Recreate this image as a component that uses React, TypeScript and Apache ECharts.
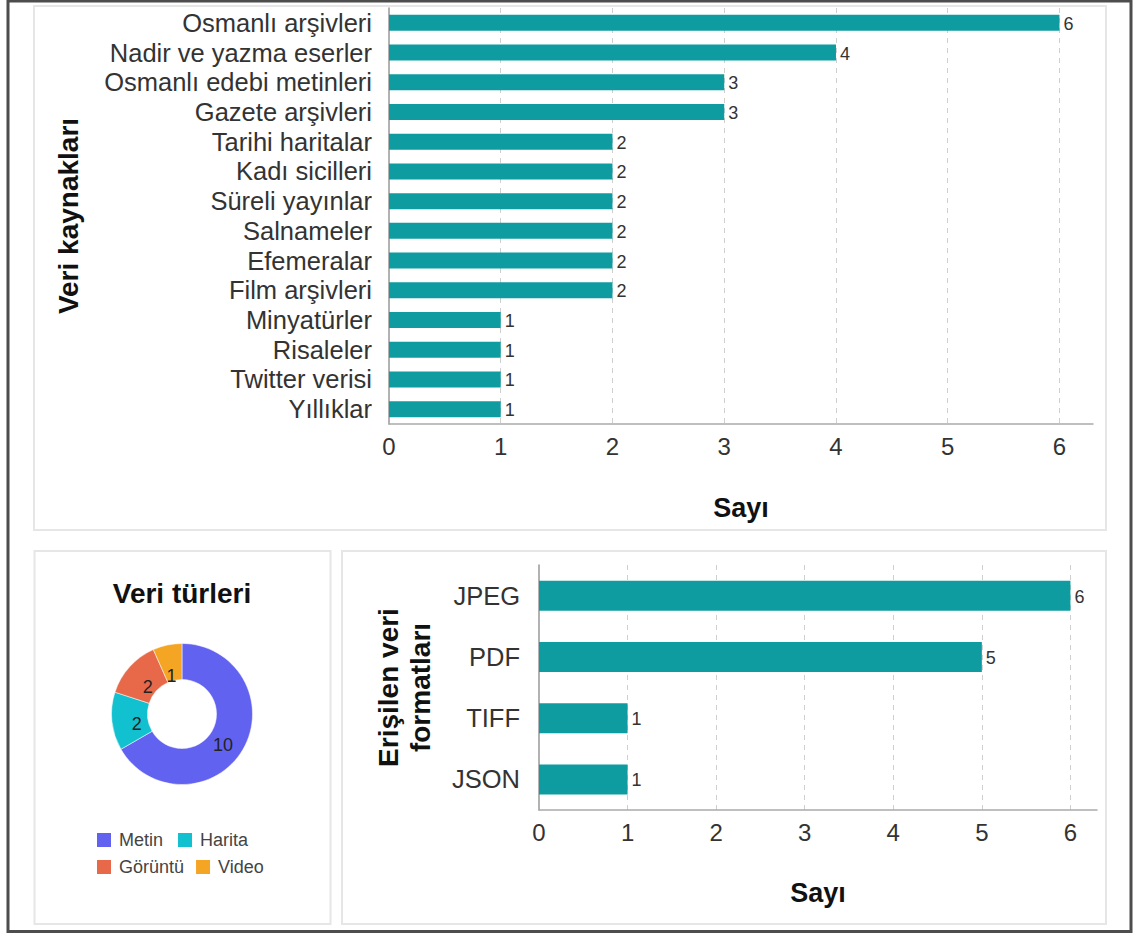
import React, { useEffect, useRef } from 'react';
import * as echarts from 'echarts';

const sourceCategories = [
  'Osmanlı arşivleri',
  'Nadir ve yazma eserler',
  'Osmanlı edebi metinleri',
  'Gazete arşivleri',
  'Tarihi haritalar',
  'Kadı sicilleri',
  'Süreli yayınlar',
  'Salnameler',
  'Efemeralar',
  'Film arşivleri',
  'Minyatürler',
  'Risaleler',
  'Twitter verisi',
  'Yıllıklar',
];
const sourceValues = [6, 4, 3, 3, 2, 2, 2, 2, 2, 2, 1, 1, 1, 1];

const formatCategories = ['JPEG', 'PDF', 'TIFF', 'JSON'];
const formatValues = [6, 5, 1, 1];

const typeNames = ['Metin', 'Harita', 'Görüntü', 'Video'];
const typeValues = [10, 2, 2, 1];
const typeColors = ['#6262f0', '#12c1cf', '#e8694a', '#f5a524'];
const typeLabelOffsets = [[-7, 3], [10, 4], [7, 10], [1, 16]];

const axisMin = 0;
const axisMax = 6.3;
const axisInterval = 1;

const FONT = '"Liberation Sans", Arial, sans-serif';
const TEAL = '#0f9ca0';
const TEXT = '#333';

const splitColors = ['transparent', '#cfcfcf', '#cfcfcf', '#cfcfcf', '#cfcfcf', '#cfcfcf', '#cfcfcf', 'transparent'];

function valueAxis(gridIndex: number, nameGap: number) {
  return {
    type: 'value',
    gridIndex,
    min: axisMin,
    max: axisMax,
    interval: axisInterval,
    name: 'Sayı',
    nameLocation: 'middle',
    nameGap,
    nameTextStyle: { fontFamily: FONT, fontSize: 27, fontWeight: 'bold', color: '#111' },
    axisLine: { show: true, lineStyle: { color: '#aaa', width: 1.5 } },
    axisTick: { show: false },
    axisLabel: {
      fontFamily: FONT,
      fontSize: 24,
      color: TEXT,
      margin: 10,
      formatter: (v: number) => (Number.isInteger(v) ? String(v) : ''),
    },
    splitLine: { show: true, lineStyle: { type: [5, 5], color: splitColors, width: 1 } },
  };
}

function categoryAxis(gridIndex: number, data: string[], name: string, nameGap: number, margin: number) {
  return {
    type: 'category',
    gridIndex,
    data,
    inverse: true,
    name,
    nameLocation: 'middle',
    nameGap,
    nameTextStyle: { fontFamily: FONT, fontSize: 28, fontWeight: 'bold', color: '#111', lineHeight: 32, align: 'center' },
    axisLine: { show: true, lineStyle: { color: '#999', width: 1.5 } },
    axisTick: { show: false },
    axisLabel: { fontFamily: FONT, fontSize: 25.5, color: TEXT, margin, interval: 0 },
    splitLine: { show: false },
  };
}

const legendBase = {
  left: 95,
  icon: 'rect',
  padding: 0,
  itemWidth: 16,
  itemHeight: 16,
  textStyle: { fontFamily: FONT, fontSize: 18, color: '#444', padding: [0, 0, 0, 2] },
};

const option = {
  animation: false,
  backgroundColor: '#fff',
  textStyle: { fontFamily: FONT },
  graphic: [
    { type: 'rect', z: 0, shape: { x: 8, y: 1, width: 1123, height: 930.5 }, style: { fill: 'none', stroke: '#4d4d4d', lineWidth: 3 } },
    { type: 'rect', z: 0, shape: { x: 34, y: 6, width: 1072, height: 524 }, style: { fill: 'none', stroke: '#e6e6e6', lineWidth: 2 } },
    { type: 'rect', z: 0, shape: { x: 34.5, y: 551, width: 296, height: 373 }, style: { fill: 'none', stroke: '#e6e6e6', lineWidth: 2 } },
    { type: 'rect', z: 0, shape: { x: 342, y: 551, width: 764, height: 373 }, style: { fill: 'none', stroke: '#e6e6e6', lineWidth: 2 } },
  ],
  title: {
    text: 'Veri türleri',
    left: 177,
    top: 574,
    textAlign: 'center',
    textStyle: { fontFamily: FONT, fontSize: 28, fontWeight: 'bold', color: '#111' },
  },
  legend: [
    { ...legendBase, data: typeNames.slice(0, 2), top: 831, itemGap: 13 },
    { ...legendBase, data: typeNames.slice(2, 4), top: 858, itemGap: 10 },
  ],
  grid: [
    { left: 389, top: 8, width: 704, height: 416, containLabel: false },
    { left: 539, top: 565, width: 558, height: 245, containLabel: false },
  ],
  xAxis: [valueAxis(0, 70), valueAxis(1, 69)],
  yAxis: [
    categoryAxis(0, sourceCategories, 'Veri kaynakları', 305, 17),
    categoryAxis(1, formatCategories, 'Erişilen veri\nformatları', 103, 19),
  ],
  series: [
    {
      type: 'bar',
      xAxisIndex: 0,
      yAxisIndex: 0,
      data: sourceValues,
      barWidth: 16,
      itemStyle: { color: TEAL },
      label: { show: true, position: 'right', distance: 4, fontFamily: FONT, fontSize: 18, color: TEXT, offset: [0, 1] },
    },
    {
      type: 'bar',
      xAxisIndex: 1,
      yAxisIndex: 1,
      data: formatValues,
      barWidth: 30,
      itemStyle: { color: TEAL },
      label: { show: true, position: 'right', distance: 4, fontFamily: FONT, fontSize: 18, color: TEXT, offset: [0, 1] },
    },
    {
      type: 'pie',
      center: [182, 714],
      radius: [34.5, 70.5],
      startAngle: 90,
      clockwise: true,
      data: typeNames.map((n, i) => ({
        name: n,
        value: typeValues[i],
        itemStyle: { color: typeColors[i] },
        label: { offset: typeLabelOffsets[i] },
      })),
      label: { show: true, position: 'inside', fontFamily: FONT, fontSize: 18, color: '#222', formatter: '{c}' },
      labelLine: { show: false },
      itemStyle: { borderColor: '#fff', borderWidth: 0.5 },
      emphasis: { disabled: true },
    },
  ],
};

export default function App() {
  const ref = useRef<HTMLDivElement>(null);
  useEffect(() => {
    document.body.style.margin = '0';
    const chart = echarts.init(ref.current!, undefined, { renderer: 'svg' });
    chart.setOption(option as any);
    return () => chart.dispose();
  }, []);
  return (
    <div
      ref={ref}
      style={{ position: 'absolute', left: 0, top: 0, width: 1134, height: 933, background: '#fff' }}
    />
  );
}
